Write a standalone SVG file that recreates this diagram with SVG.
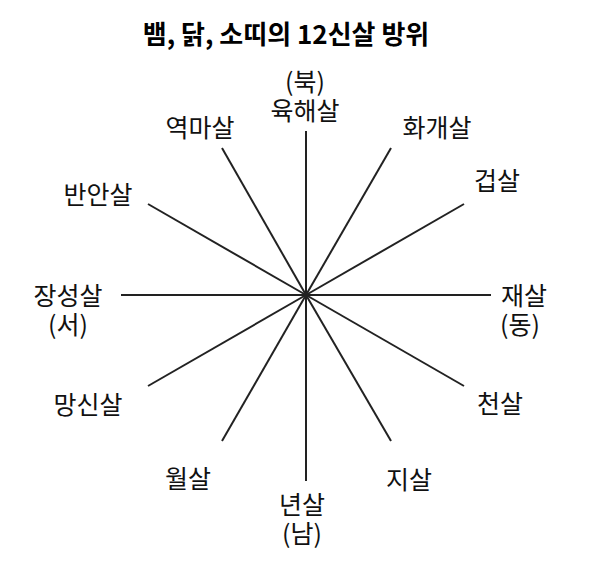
<svg xmlns="http://www.w3.org/2000/svg" width="598" height="571" viewBox="0 0 598 571">
<style>
.t{font-family:"Noto Sans CJK KR","Noto Sans",sans-serif;font-size:25px;fill:#111;text-anchor:middle}
.h{font-family:"Noto Sans CJK KR","Noto Sans",sans-serif;font-size:26px;font-weight:bold;fill:#000;text-anchor:middle}
.c line{stroke:#222;stroke-width:2}
</style>
<rect width="598" height="571" fill="#fff"/>
<text class="h" x="286" y="44">뱀, 닭, 소띠의 12신살 방위</text>
<g class="c" id="connectors">
<line x1="306" y1="295" x2="306" y2="131"/>
<line x1="306" y1="295" x2="306" y2="481"/>
<line x1="306" y1="295" x2="121" y2="295"/>
<line x1="306" y1="295" x2="491" y2="295"/>
<line x1="306" y1="295" x2="148" y2="204"/>
<line x1="306" y1="295" x2="464" y2="204"/>
<line x1="306" y1="295" x2="148" y2="386"/>
<line x1="306" y1="295" x2="464" y2="386"/>
<line x1="306" y1="295" x2="222" y2="148"/>
<line x1="306" y1="295" x2="391" y2="148"/>
<line x1="306" y1="295" x2="222" y2="441"/>
<line x1="306" y1="295" x2="391" y2="441"/>
</g>
<g id="n-north"><text class="t" x="305" y="91">(북)</text><text class="t" x="305" y="120">육해살</text></g>
<g id="n-hwagae"><text class="t" x="437" y="137">화개살</text></g>
<g id="n-geop"><text class="t" x="497" y="190">겁살</text></g>
<g id="n-east"><text class="t" x="524" y="305">재살</text><text class="t" x="520" y="334">(동)</text></g>
<g id="n-cheon"><text class="t" x="500" y="413">천살</text></g>
<g id="n-ji"><text class="t" x="409" y="489">지살</text></g>
<g id="n-south"><text class="t" x="302" y="514">년살</text><text class="t" x="302" y="543">(남)</text></g>
<g id="n-wol"><text class="t" x="188" y="488">월살</text></g>
<g id="n-mangsin"><text class="t" x="88" y="414">망신살</text></g>
<g id="n-west"><text class="t" x="68" y="305">장성살</text><text class="t" x="68" y="334">(서)</text></g>
<g id="n-banan"><text class="t" x="98" y="204">반안살</text></g>
<g id="n-yeokma"><text class="t" x="200" y="137">역마살</text></g>
</svg>
